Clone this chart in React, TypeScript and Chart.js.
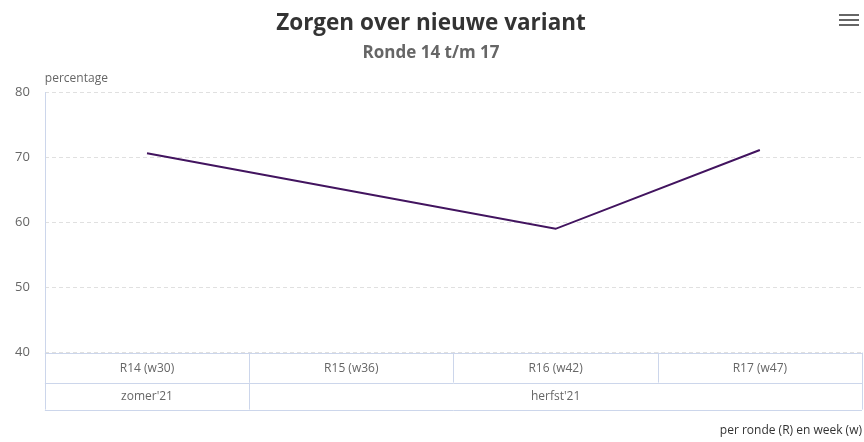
import React, { useEffect, useRef } from "react";
import { Chart, registerables } from "chart.js";

Chart.register(...registerables);

const rounds = ["R14 (w30)", "R15 (w36)", "R16 (w42)", "R17 (w47)"];
const concern = [70.6, 64.8, 59.0, 71.1];
const seasons = ["zomer'21", "herfst'21"];
const seasonSpans = [1, 3];
const yMin = 40;
const yMax = 80;
const yStep = 10;

const FONT = "'Open Sans', 'Noto Sans', sans-serif";
const LINE_COLOR = "#ccd6eb";
const TEXT_GRAY = "#666666";

const tablePlugin = {
  id: "groupedTable",
  afterDraw(chart: any) {
    const { ctx, chartArea } = chart;
    const xs = chart.scales.x;
    const left = chartArea.left;
    const right = chartArea.right;
    const top = chartArea.bottom;
    const row1 = 30;
    const row2 = 27;
    const n = rounds.length;
    const cellW = (right - left) / n;

    ctx.save();
    ctx.strokeStyle = LINE_COLOR;
    ctx.lineWidth = 1;
    ctx.setLineDash([]);
    const hl = (y: number) => {
      ctx.beginPath();
      ctx.moveTo(left, Math.round(y) + 0.5);
      ctx.lineTo(right, Math.round(y) + 0.5);
      ctx.stroke();
    };
    const vl = (x: number, y0: number, y1: number) => {
      ctx.beginPath();
      ctx.moveTo(Math.round(x) + 0.5, y0);
      ctx.lineTo(Math.round(x) + 0.5, y1);
      ctx.stroke();
    };
    // left axis line
    vl(left, chartArea.top, top);
    hl(top);
    hl(top + row1);
    hl(top + row1 + row2);
    vl(left, top, top + row1 + row2);
    vl(right, top, top + row1 + row2);
    for (let i = 1; i < n; i++) vl(left + i * cellW, top, top + row1);
    let acc = 0;
    for (let s = 0; s < seasonSpans.length - 1; s++) {
      acc += seasonSpans[s];
      vl(left + acc * cellW, top + row1, top + row1 + row2);
    }

    ctx.fillStyle = TEXT_GRAY;
    ctx.font = `12px ${FONT}`;
    ctx.textAlign = "center";
    ctx.textBaseline = "middle";
    rounds.forEach((r, i) => {
      ctx.fillText(r, xs.getPixelForValue(i), top + row1 / 2 + 1);
    });
    let start = 0;
    seasons.forEach((s, i) => {
      const x0 = left + start * cellW;
      const x1 = left + (start + seasonSpans[i]) * cellW;
      ctx.fillText(s, (x0 + x1) / 2, top + row1 + row2 / 2);
      start += seasonSpans[i];
    });

    // axis title "percentage"
    ctx.textAlign = "left";
    ctx.font = `12px ${FONT}`;
    ctx.fillText("percentage", left, chartArea.top - 13);

    // menu icon
    ctx.fillStyle = TEXT_GRAY;
    [14, 19, 24].forEach((y) => ctx.fillRect(839, y, 20, 2));
    ctx.restore();
  },
};

export default function App() {
  const ref = useRef<HTMLCanvasElement | null>(null);
  useEffect(() => {
    if (!ref.current) return;
    const chart = new Chart(ref.current, {
      type: "line",
      data: {
        labels: rounds,
        datasets: [
          {
            label: "Zorgen over nieuwe variant",
            data: concern,
            borderColor: "#42145f",
            backgroundColor: "#42145f",
            borderWidth: 2,
            pointRadius: 0,
            tension: 0,
          },
        ],
      },
      options: {
        animation: false,
        responsive: true,
        maintainAspectRatio: false,
        layout: { padding: { top: 10, left: 0, right: 2, bottom: 4 } },
        plugins: {
          legend: { display: false },
          tooltip: { enabled: false },
          title: {
            display: true,
            text: "Zorgen over nieuwe variant",
            color: "#333333",
            font: { family: FONT, size: 22.5, weight: "bold" },
            padding: { top: 0, bottom: 6 },
          },
          subtitle: {
            display: true,
            text: "Ronde 14 t/m 17",
            color: TEXT_GRAY,
            font: { family: FONT, size: 17, weight: "bold" },
            padding: { top: 0, bottom: 28.6 },
          },
        },
        scales: {
          x: {
            offset: true,
            grid: { display: false },
            border: { display: false },
            ticks: { display: false },
            title: {
              display: true,
              text: "per ronde (R) en week (w)",
              align: "end",
              color: "#333333",
              font: { family: FONT, size: 12 },
              padding: { top: 63, bottom: 0 },
            },
          },
          y: {
            min: yMin,
            max: yMax,
            ticks: {
              stepSize: yStep,
              color: TEXT_GRAY,
              font: { family: FONT, size: 13 },
              padding: 15,
            },
            grid: {
              color: "#e0e0e0",
              drawTicks: false,
            },
            border: { display: true, color: "rgba(0,0,0,0)", dash: [4, 3] },
          },
        },
      },
      plugins: [tablePlugin],
    });
    return () => chart.destroy();
  }, []);
  return (
    <div style={{ position: "absolute", left: 0, top: 0, width: 864, height: 442, background: "#fff" }}>
      <canvas ref={ref} />
    </div>
  );
}
